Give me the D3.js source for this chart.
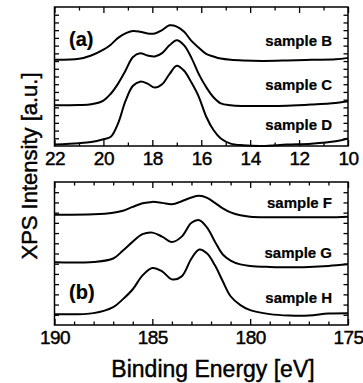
<!DOCTYPE html>
<html>
<head>
<meta charset="utf-8">
<script src="https://cdn.jsdelivr.net/npm/d3@7"></script>
<style>
  body { margin: 0; background: #fff; }
  text { font-family: "Liberation Sans", Arial, sans-serif; fill: #000; stroke: #000; stroke-width: 0.45px; }
</style>
</head>
<body>
<div id="chart"></div>
<script>
// panel (a): valence region, binding energy in eV
const energyA = [22, 21, 20.5, 20, 19.7, 19.4, 19.1, 18.8, 18.5, 18.2, 17.9, 17.6, 17.3, 17.0, 16.7, 16.4, 16.1, 15.8, 15.5, 15.2, 14.8, 14.3, 13.5, 12.5, 11.5, 10.5, 10];
const sampleB = [62.0, 62.7, 65.1, 69.3, 72.9, 77.8, 81.0, 82.7, 82.2, 81.0, 81.0, 83.4, 86.8, 85.9, 82.2, 75.6, 70.7, 66.3, 64.4, 62.9, 62.0, 61.5, 61.2, 61.5, 62.0, 62.4, 63.4];
const sampleC = [29.3, 29.5, 30.0, 32.7, 37.6, 44.9, 54.1, 63.9, 66.8, 65.1, 64.4, 66.8, 72.4, 76.1, 72.4, 63.4, 51.7, 42.4, 35.1, 30.7, 29.3, 28.8, 28.8, 29.0, 29.8, 31.0, 32.2];
const sampleD = [1.0, 2.0, 2.9, 4.9, 6.6, 16.3, 32.2, 43.2, 46.3, 44.9, 42.0, 44.4, 51.7, 57.8, 54.1, 45.6, 35.4, 21.2, 11.5, 5.4, 1.7, 0.5, 0.0, 1.0, 1.7, 3.4, 5.4];

// panel (b): core level region
const energyB = [190, 188, 187, 186.5, 186, 185.5, 185, 184.5, 184, 183.5, 183, 182.6, 182.2, 181.8, 181.4, 181, 180.5, 180, 179, 178, 177, 176, 175];
const sampleF = [77.1, 77.4, 78.5, 79.9, 82.6, 85.1, 86.1, 85.4, 84.4, 86.5, 89.2, 90.3, 88.9, 85.4, 81.6, 78.8, 76.7, 75.7, 75.3, 75.3, 75.3, 75.3, 75.7];
const sampleG = [43.8, 44.1, 46.5, 52.1, 58.3, 63.5, 64.6, 61.8, 58.0, 61.8, 71.5, 73.3, 68.1, 58.3, 49.3, 45.1, 42.4, 41.3, 40.6, 40.3, 40.6, 41.3, 42.4];
const sampleH = [7.6, 8.3, 12.5, 18.1, 25.0, 34.7, 39.9, 37.5, 31.9, 34.0, 46.5, 52.8, 50.0, 41.7, 30.6, 20.1, 13.9, 10.4, 7.6, 6.6, 6.6, 8.0, 8.3];

const ticksA = [22, 20, 18, 16, 14, 12, 10];
const ticksB = [190, 185, 180, 175];

const width = 363, height = 383;
const left = 54.5, right = 348;

const svg = d3.select("#chart")
  .append("svg")
    .attr("width", width)
    .attr("height", height);

const panels = [
  { x: energyA, domain: [22, 10], top: 7, bottom: 146, major: ticksA, minorStep: 1, ySteps: 18,
    tag: "(a)", tagY: 46,
    series: [ {name: "sample B", v: sampleB, ly: 46}, {name: "sample C", v: sampleC, ly: 90}, {name: "sample D", v: sampleD, ly: 130} ] },
  { x: energyB, domain: [190, 175], top: 182, bottom: 325, major: ticksB, minorStep: 1, ySteps: 14,
    tag: "(b)", tagY: 299,
    series: [ {name: "sample F", v: sampleF, ly: 208}, {name: "sample G", v: sampleG, ly: 258}, {name: "sample H", v: sampleH, ly: 303} ] }
];

panels.forEach(p => {
  const x = d3.scaleLinear().domain(p.domain).range([left, right]);
  const y = d3.scaleLinear().domain([0, 100]).range([p.bottom, p.top]);
  const g = svg.append("g");

  const lo = Math.min(...p.domain), hi = Math.max(...p.domain);
  const minor = d3.range(lo, hi + 0.001, p.minorStep).filter(v => !p.major.includes(v));
  const yTicks = d3.range(1, p.ySteps).map(i => i * 100 / p.ySteps);

  // inward ticks on all four sides
  const sides = [
    { axis: d3.axisBottom(x), t: p.bottom, ticks: p.major, len: -6, labels: true },
    { axis: d3.axisBottom(x), t: p.bottom, ticks: minor, len: -3.5 },
    { axis: d3.axisTop(x), t: p.top, ticks: p.major, len: -6 },
    { axis: d3.axisTop(x), t: p.top, ticks: minor, len: -3.5 }
  ];
  sides.forEach(s => {
    const a = g.append("g")
      .attr("transform", "translate(0," + s.t + ")")
      .call(s.axis.tickValues(s.ticks).tickSize(s.len).tickPadding(s.labels ? 11 : 0).tickFormat(s.labels ? d3.format("d") : ""));
    a.select(".domain").remove();
    a.selectAll("line").attr("stroke", "#000").attr("stroke-width", 1.3);
    a.selectAll("text").style("font-size", "19px").style("letter-spacing", "-0.5px").attr("dy", "0.4em");
  });
  [[d3.axisLeft(y), left], [d3.axisRight(y), right]].forEach(([ax, t]) => {
    const a = g.append("g")
      .attr("transform", "translate(" + t + ",0)")
      .call(ax.tickValues(yTicks).tickSize(-4.5).tickFormat(""));
    a.select(".domain").remove();
    a.selectAll("line").attr("stroke", "#000").attr("stroke-width", 1.3);
  });

  g.append("rect")
    .attr("x", left).attr("y", p.top)
    .attr("width", right - left).attr("height", p.bottom - p.top)
    .attr("fill", "none").attr("stroke", "#000").attr("stroke-width", 1.5);

  const line = d3.line()
    .x((d, i) => x(p.x[i]))
    .y(d => y(d))
    .curve(d3.curveCatmullRom.alpha(0.5));

  p.series.forEach(s => {
    g.append("path")
      .datum(s.v)
      .attr("d", line)
      .attr("fill", "none")
      .attr("stroke", "#000")
      .attr("stroke-width", 2);
    g.append("text")
      .attr("x", 332).attr("y", s.ly)
      .attr("text-anchor", "end")
      .style("font-size", "15px").style("font-weight", "bold")
      .style("stroke-width", "0.2px")
      .text(s.name);
  });

  g.append("text")
    .attr("x", 69).attr("y", p.tagY)
    .style("font-size", "20px").style("font-weight", "bold")
    .style("stroke-width", "0.2px")
    .text(p.tag);
});

svg.append("text")
  .attr("transform", "translate(37,166)rotate(-90)")
  .attr("text-anchor", "middle")
  .style("font-size", "22px")
  .text("XPS Intensity [a.u.]");

svg.append("text")
  .attr("x", 213).attr("y", 377)
  .attr("text-anchor", "middle")
  .style("font-size", "23px")
  .text("Binding Energy [eV]");
</script>
</body>
</html>
